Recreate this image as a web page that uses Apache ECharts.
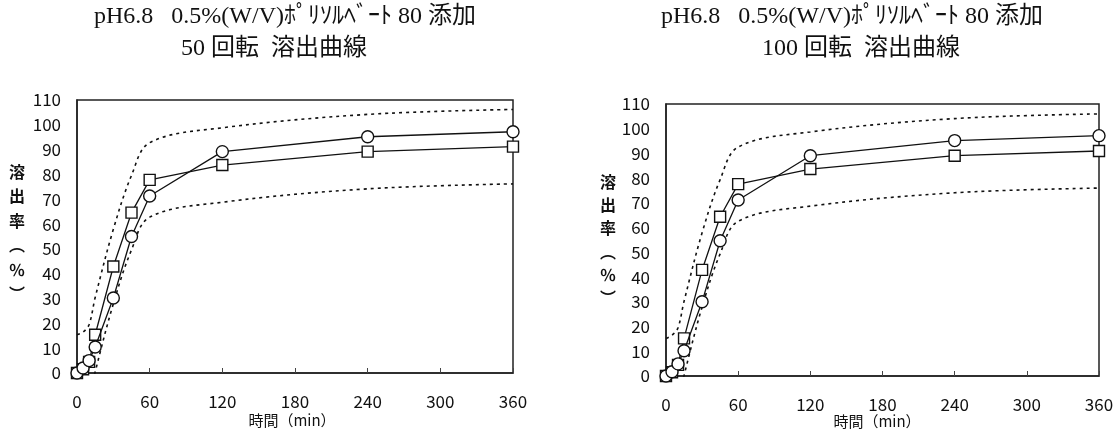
<!DOCTYPE html>
<html>
<head>
<meta charset="utf-8">
<script src="https://cdn.jsdelivr.net/npm/echarts@6/dist/echarts.min.js"></script>
<style>
html,body{margin:0;padding:0;background:#fff;}
#c{width:1117px;height:429px;}
</style>
</head>
<body>
<div id="c"></div>
<script>
// time points (min)
const time = [0, 5, 10, 15, 30, 45, 60, 120, 240, 360];
// 50 rpm
const square50 = [0, 1.5, 4.5, 15.4, 42.9, 64.6, 77.8, 83.8, 89.2, 91.2];
const circle50 = [0, 2, 5, 10.5, 30.2, 55, 71.3, 89.2, 95.2, 97.2];
const upper50  = [15.4, 16.5, 19.5, 30.4, 57.9, 79.6, 92.8, 98.8, 104.2, 106.2];
const lower50  = [-15, -13.5, -10.5, 0.4, 27.9, 49.6, 62.8, 68.8, 74.2, 76.2];
// 100 rpm
const square100 = [0, 1.5, 4.5, 15.2, 42.9, 64.4, 77.6, 83.7, 89.1, 91];
const circle100 = [0, 1.7, 4.9, 10.2, 30, 54.7, 71.2, 89.1, 95.2, 97.2];
const upper100  = [15.2, 16.5, 19.5, 30.2, 57.9, 79.4, 92.6, 98.7, 104.1, 106];
const lower100  = [-15, -13.5, -10.5, 0.2, 27.9, 49.4, 62.6, 68.7, 74.1, 76];

const titleLine1 = 'pH6.8   0.5%(W/V)ﾎﾟﾘｿﾙﾍﾞｰﾄ 80 添加';
const titleLeft2 = '50 回転  溶出曲線';
const titleRight2 = '100 回転  溶出曲線';
const yName = '溶\n出\n率\n︵\n％\n︶';
const xName = '時間（min）';

const pair = (xs, ys) => xs.map((x, i) => [x, ys[i]]);

const serifFont = '"Liberation Serif", "Noto Sans CJK JP", serif';
const gothic = '"Noto Sans CJK JP", "Liberation Sans", sans-serif';

function xAxisDef(gi) {
  return {
    type: 'value', gridIndex: gi, min: 0, max: 360, interval: 60,
    axisLine: { show: true, lineStyle: { color: '#222', width: 1.5 } },
    axisTick: { show: true, inside: true, length: 5, lineStyle: { color: '#444', width: 1 } },
    splitLine: { show: false },
    axisLabel: { color: '#111', fontSize: 17, fontFamily: gothic, margin: 20 }
  };
}
function yAxisDef(gi) {
  return {
    type: 'value', gridIndex: gi, min: 0, max: 110, interval: 10,
    axisLine: { show: true, lineStyle: { color: '#222', width: 1.5 } },
    axisTick: { show: false },
    splitLine: { show: false },
    axisLabel: { color: '#111', fontSize: 17, fontFamily: gothic, margin: 16 }
  };
}
function bandSeries(gi, data) {
  return {
    type: 'line', xAxisIndex: gi, yAxisIndex: gi, data: data,
    smooth: 0.35, showSymbol: false, symbol: 'none', clip: true,
    lineStyle: { color: '#111', width: 1.6, type: [3, 4] }, z: 2,
    silent: true
  };
}
function markSeries(gi, data, sym, size, z) {
  return {
    type: 'line', xAxisIndex: gi, yAxisIndex: gi, data: data,
    symbol: sym, symbolSize: size, showSymbol: true, showAllSymbol: true, clip: false,
    lineStyle: { color: '#111', width: 1.3 },
    itemStyle: { color: '#fff', borderColor: '#111', borderWidth: 1.4 },
    z: z, silent: true
  };
}
function txt(x, y, text, font, extra) {
  return {
    type: 'text', x: x, y: y, silent: true,
    style: Object.assign({
      text: text, font: font, fill: '#111',
      align: 'center', verticalAlign: 'middle',
      textAlign: 'center', textVerticalAlign: 'middle'
    }, extra || {})
  };
}

const chart = echarts.init(document.getElementById('c'), null, { renderer: 'canvas' });
chart.setOption({
  animation: false,
  backgroundColor: '#fff',
  grid: [
    { left: 77, top: 100, width: 436, height: 273, show: true, borderColor: '#222', borderWidth: 1.5, backgroundColor: 'transparent' },
    { left: 666, top: 104, width: 433, height: 272, show: true, borderColor: '#222', borderWidth: 1.5, backgroundColor: 'transparent' }
  ],
  xAxis: [xAxisDef(0), xAxisDef(1)],
  yAxis: [yAxisDef(0), yAxisDef(1)],
  series: [
    bandSeries(0, pair(time, upper50)),
    bandSeries(0, pair(time, lower50)),
    markSeries(0, pair(time, square50), 'rect', 11, 3),
    markSeries(0, pair(time, circle50), 'circle', 12, 4),
    bandSeries(1, pair(time, upper100)),
    bandSeries(1, pair(time, lower100)),
    markSeries(1, pair(time, square100), 'rect', 11, 3),
    markSeries(1, pair(time, circle100), 'circle', 12, 4)
  ],
  graphic: [
    txt(285, 17, titleLine1, '24px ' + serifFont),
    txt(274, 49, titleLeft2, '24px ' + serifFont),
    txt(852, 17, titleLine1, '24px ' + serifFont),
    txt(861, 49, titleRight2, '24px ' + serifFont),
    txt(17, 233, yName, 'bold 16px ' + gothic, { lineHeight: 24.4 }),
    txt(608, 240, yName, 'bold 16px ' + gothic, { lineHeight: 23.2 }),
    txt(292, 420, xName, '15px ' + gothic),
    txt(877, 421, xName, '15px ' + gothic)
  ]
});
</script>
</body>
</html>
